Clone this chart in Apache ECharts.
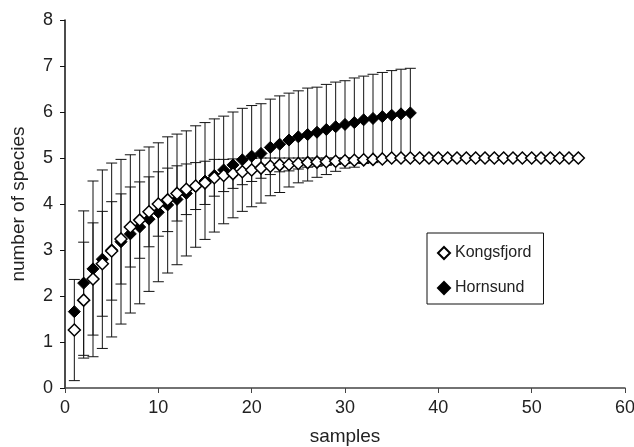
<!DOCTYPE html>
<html><head><meta charset="utf-8">
<script src="https://cdn.jsdelivr.net/npm/echarts@6/dist/echarts.min.js"></script>
<style>html,body{margin:0;padding:0;background:#fff}#c{width:634px;height:447px}</style>
</head><body><div id="c"></div>
<script>
// Kongsfjord: samples 1..55
const kongMean = [1.26,1.91,2.37,2.70,2.98,3.24,3.50,3.65,3.83,4.00,4.09,4.23,4.32,4.39,4.46,4.57,4.62,4.66,4.70,4.74,4.78,4.82,4.85,4.86,4.88,4.90,4.91,4.92,4.93,4.94,4.95,4.96,4.97,4.98,5,5,5,5,5,5,5,5,5,5,5,5,5,5,5,5,5,5,5,5,5];
const kongSD = [1.10,1.26,1.22,1.14,1.07,0.98,0.87,0.83,0.76,0.70,0.69,0.60,0.55,0.51,0.47,0.40,0.35,0.32,0.28,0.25,0.22,0.18,0.15,0.14,0.12,0.10,0.09,0.08,0.07,0.06,0.05,0.04,0.03,0.02,0,0,0,0,0,0,0,0,0,0,0,0,0,0,0,0,0,0,0,0,0];
// Hornsund: samples 1..37
const hornMean = [1.66,2.28,2.59,2.80,3.00,3.18,3.35,3.50,3.67,3.82,3.98,4.10,4.23,4.38,4.50,4.62,4.74,4.85,4.96,5.04,5.10,5.23,5.30,5.39,5.46,5.51,5.56,5.62,5.68,5.73,5.77,5.83,5.86,5.90,5.93,5.96,5.98];
const hornSD = [0,1.57,1.91,1.94,1.89,1.79,1.72,1.67,1.57,1.51,1.48,1.42,1.36,1.32,1.27,1.23,1.17,1.15,1.12,1.10,1.08,1.05,1.05,1.02,1.00,1.01,0.98,0.98,0.97,0.95,0.97,0.95,0.96,0.96,0.97,0.97,0.97];
const xTicks = [0,10,20,30,40,50,60];
const yTicks = [0,1,2,3,4,5,6,7,8];

const FONT = 'Liberation Sans';
function pts(m){ return m.map((v,i)=>[i+1,v]); }
function bars(m,s){ const out=[]; m.forEach((v,i)=>{ if(s[i]>0) out.push([i+1,v-s[i],v+s[i]]); }); return out; }
function errRender(params, api){
  const x=api.value(0), lo=api.value(1), hi=api.value(2);
  const a=api.coord([x,lo]), b=api.coord([x,hi]); const hw=5.5;
  const st={stroke:'#111',lineWidth:1};
  return {type:'group',children:[
    {type:'line',shape:{x1:a[0],y1:a[1],x2:b[0],y2:b[1]},style:st},
    {type:'line',shape:{x1:a[0]-hw,y1:a[1],x2:a[0]+hw,y2:a[1]},style:st},
    {type:'line',shape:{x1:b[0]-hw,y1:b[1],x2:b[0]+hw,y2:b[1]},style:st}
  ]};
}
const chart = echarts.init(document.getElementById('c'), null, {renderer:'canvas'});
chart.setOption({
  animation:false,
  backgroundColor:'#fff',
  grid:{left:65,right:9,top:20,bottom:59,containLabel:false,outerBoundsMode:'none'},
  legend:{
    orient:'vertical', left:427, top:233,
    data:['Kongsfjord','Hornsund'],
    borderColor:'#111', borderWidth:1, padding:[12,12,8,10], itemGap:19,
    itemWidth:12, itemHeight:12,
    textStyle:{fontFamily:FONT,fontSize:16,color:'#222'}
  },
  xAxis:{
    type:'value', min:0, max:60, interval:10,
    name:'samples', nameLocation:'middle', nameGap:39,
    nameTextStyle:{fontFamily:FONT,fontSize:19,color:'#222'},
    axisLine:{lineStyle:{color:'#444',width:1.5}},
    axisTick:{show:true,inside:false,length:5,lineStyle:{color:'#444'}},
    axisLabel:{fontFamily:FONT,fontSize:18,color:'#222',margin:11},
    splitLine:{show:false}
  },
  yAxis:{
    type:'value', min:0, max:8, interval:1,
    name:'number of species', nameLocation:'middle', nameGap:37,
    nameTextStyle:{fontFamily:FONT,fontSize:19,color:'#222'},
    axisLine:{show:true,lineStyle:{color:'#111',width:1.5}},
    axisTick:{show:true,inside:false,length:5,lineStyle:{color:'#111'}},
    axisLabel:{fontFamily:FONT,fontSize:18,color:'#222',margin:12},
    splitLine:{show:false}
  },
  series:[
    {name:'errH',type:'custom',renderItem:errRender,data:bars(hornMean,hornSD),encode:{x:0,y:[1,2]},z:1,silent:true},
    {name:'errK',type:'custom',renderItem:errRender,data:bars(kongMean,kongSD),encode:{x:0,y:[1,2]},z:1,silent:true},
    {name:'Hornsund',type:'scatter',symbol:'diamond',symbolSize:12,data:pts(hornMean),
      itemStyle:{color:'#000',borderColor:'#000',borderWidth:1,opacity:1},z:3},
    {name:'Kongsfjord',type:'scatter',symbol:'diamond',symbolSize:12,data:pts(kongMean),
      itemStyle:{color:'#fff',borderColor:'#000',borderWidth:1.5,opacity:1},z:4}
  ]
});
</script></body></html>
